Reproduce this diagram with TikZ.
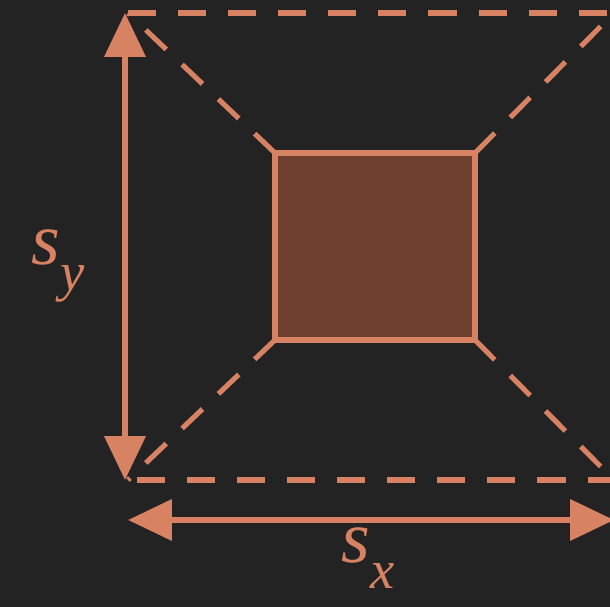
\documentclass[tikz,border=0pt]{standalone}
\usepackage{tikz}
\usepackage{fontspec}
\usetikzlibrary{arrows.meta}
\newfontfamily\labelfont{Liberation Serif}
\definecolor{rust}{RGB}{216,130,100}
\definecolor{rustfill}{RGB}{110,62,46}
\definecolor{board}{RGB}{35,35,36}
\newcommand{\sizelabel}[1]{%
  \textit{s}\raisebox{-0.35em}{\fontsize{31}{31}\selectfont\textit{#1}}}
\tikzset{
  dash line/.style={
    draw=rust, line width=2.9pt, dash pattern=on 16pt off 12.5pt
  },
  inner box/.style={
    rectangle, draw=rust, fill=rustfill, line width=3.4pt,
    inner sep=0pt, outer sep=0pt, minimum width=4cm, minimum height=3.74cm
  },
  size arrow/.style={
    draw=rust, line width=3.2pt,
    {Triangle[width=23pt,length=25pt]}-{Triangle[width=23pt,length=25pt]}
  },
  size label/.style={
    text=rust, inner sep=0pt, anchor=base west,
    font=\labelfont\fontsize{42}{42}\selectfont
  }
}

\begin{document}
\begin{tikzpicture}[x=0.02cm, y=-0.02cm]

% background, same size as the reference
\fill[board] (0,0) rectangle (610,607);
\useasboundingbox (0,0) rectangle (610,607);
\clip (0,0) rectangle (610,607);

% outer corners
\coordinate (tl) at (128,13);
\coordinate (tr) at (614,13);
\coordinate (br) at (614,480);
\coordinate (bl) at (128,480);

% diagonals
\node[inner box] (box) at (375,246.5) {};
\draw[dash line] (box.north west) -- (tl);
\draw[dash line] (box.north east) -- (tr);
\draw[dash line] (box.south east) -- (br);
\draw[dash line] (box.south west) -- (bl);

% outer dashed frame (left side lies under the arrow)
\draw[dash line] (tl) -- (tr) -- (br) -- (bl);
\node[inner box] at (box) {};

% sizes
\coordinate (yt) at (125,13);
\coordinate (yb) at (125,480);
\coordinate (xl) at (128,520);
\coordinate (xr) at (614,520);
\draw[size arrow] (yb) -- (yt);
\draw[size arrow] (xl) -- (xr);
\node[size label] (sy) at (31,265) {\sizelabel{y}};
\node[size label] (sx) at (341,563) {\sizelabel{x}};

\end{tikzpicture}
\end{document}
